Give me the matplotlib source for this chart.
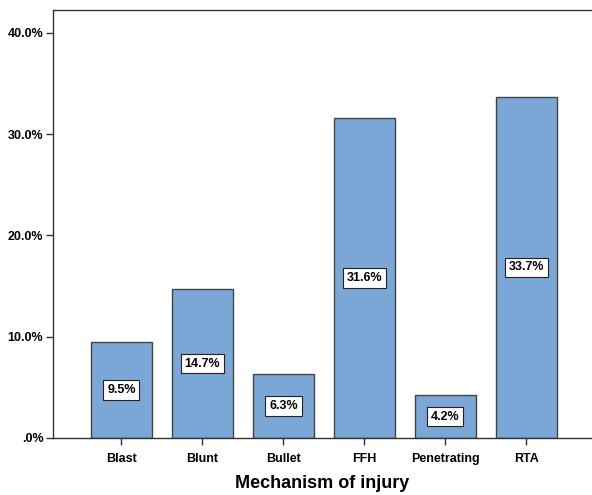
import matplotlib.pyplot as plt

categories = ["Blast", "Blunt", "Bullet", "FFH", "Penetrating", "RTA"]
percents = [9.5, 14.7, 6.3, 31.6, 4.2, 33.7]
ytick_vals = [0, 10, 20, 30, 40]
ytick_labels = [".0%", "10.0%", "20.0%", "30.0%", "40.0%"]

plt.rcParams['font.family'] = ['Liberation Sans', 'DejaVu Sans']

fig = plt.figure(figsize=(5.92, 4.95), dpi=100)
ax = fig.add_axes([0.0895, 0.1152, 0.9105, 0.8646])

x = list(range(len(categories)))
ax.bar(x, percents, width=0.75, color='#7BA7D7', edgecolor='#444444', linewidth=1.0)

for xi, p in zip(x, percents):
    ax.text(xi, p / 2, "%.1f%%" % p, ha='center', va='center', fontsize=9,
            fontweight='bold',
            bbox=dict(boxstyle='square,pad=0.3', facecolor='white', edgecolor='#222222', linewidth=0.8))

ax.set_xlim(-0.846, 5.81)
ax.set_ylim(0, 42.27)
ax.set_xticks(x)
ax.set_xticklabels(categories, fontsize=9, fontweight='bold')
ax.set_yticks(ytick_vals)
ax.set_yticklabels(ytick_labels, fontsize=9, fontweight='bold')
ax.tick_params(axis='both', direction='out', length=5, width=1, color='#333333', pad=2)
ax.tick_params(axis='x', pad=6)

for s in ['left', 'bottom', 'top']:
    ax.spines[s].set_color('#333333')
    ax.spines[s].set_linewidth(1.0)
ax.spines['right'].set_visible(False)

ax.set_xlabel("Mechanism of injury", fontsize=13, fontweight='bold', labelpad=7)

fig.savefig("out.png", dpi=100)
